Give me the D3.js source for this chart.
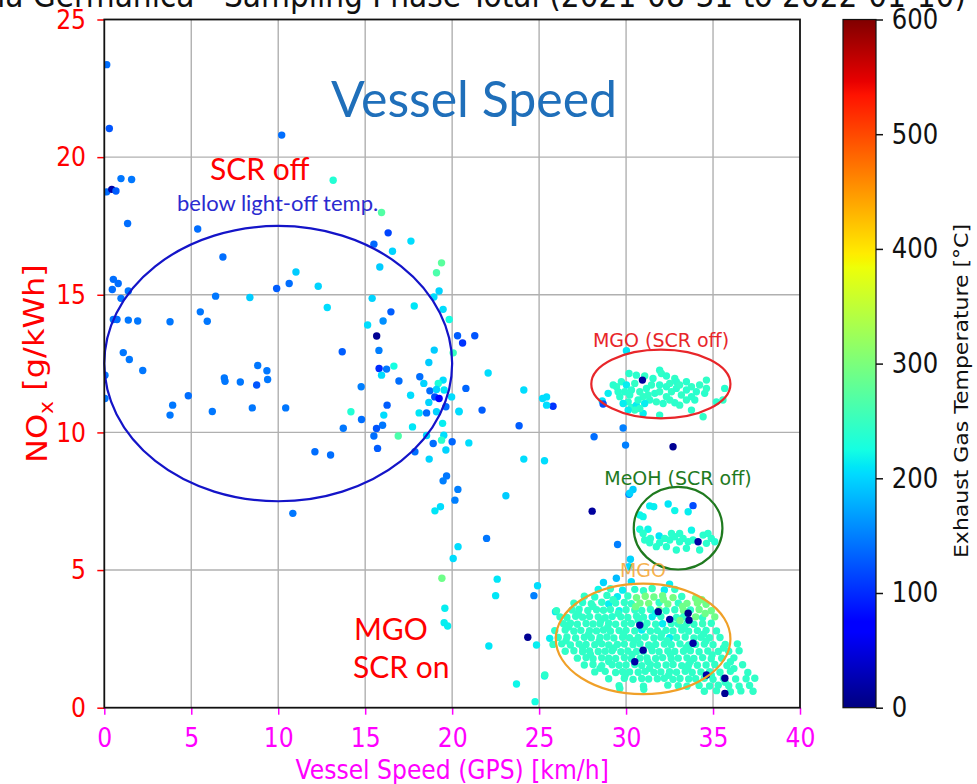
<!DOCTYPE html>
<html>
<head>
<meta charset="utf-8">
<script src="https://cdn.jsdelivr.net/npm/d3@7"></script>
<style>
  body { margin: 0; background: #fff; }
  svg { display: block; }
</style>
</head>
<body>
<div id="chart"></div>
<script>
// ---- data: [speed km/h, NOx g/kWh, exhaust temp °C] ----
const lowLoadPts = [
  [0.14,23.36,140],[0.29,21.04,125],[10.2,20.8,140],[0.96,19.22,145],[1.57,19.19,145],[0.14,18.74,140],
  [0.43,18.83,20],[0.67,18.77,130],[1.34,17.59,140],[5.37,17.39,140],[6.82,16.37,140],[0.52,15.56,140],
  [0.8,15.41,140],[0.46,15.19,140],[1.38,15.14,145],[0.96,14.87,145],[9.91,15.23,130],[10.63,15.41,140],
  [6.4,14.95,145],[8.37,14.9,195],[0.52,14.1,145],[0.73,14.1,140],[1.38,14.08,145],[1.92,14.05,145],
  [3.78,14.02,145],[5.52,14.38,145],[5.92,14.04,145],[1.09,12.9,145],[1.44,12.65,145],[2.21,12.25,145],
  [0.04,12.08,145],[0.04,11.23,145],[4.83,11.33,140],[3.93,10.99,145],[3.78,10.63,145],[6.21,10.76,145],
  [6.9,11.98,145],[6.94,11.86,145],[7.82,11.83,145],[8.82,12.43,145],[9.35,12.24,145],[9.39,11.92,145],
  [8.76,11.72,125],[8.51,10.89,145],[10.43,10.89,145],[10.84,7.06,145],[11.02,15.83,195],[12.3,15.31,200],
  [12.82,14.54,205],[13.68,12.93,130],[13.16,19.16,235],[12.11,9.3,140],[13.01,9.18,140],[13.74,10.15,145]
];

const midSpeedPts = [
  [14.77,11.66,150],[14.18,10.75,235],[14.79,10.47,140],[15.94,17.99,270],[16.32,17.25,115],[15.5,16.84,135],
  [17.63,16.95,205],[16.57,16.58,200],[15.84,16.01,195],[19.39,16.16,275],[19.1,15.8,265],[19.25,15.14,200],
  [18.95,14.92,205],[15.4,14.87,200],[17.82,14.59,210],[19.48,14.47,205],[16.48,14.38,130],[16.03,14.05,160],
  [19.83,14.1,225],[15.14,13.9,205],[15.66,13.5,10],[20.31,13.51,130],[20.6,13.25,105],[21.3,13.51,125],
  [18.97,12.99,195],[15.79,12.98,150],[20.06,12.89,250],[18.66,12.54,195],[16.65,12.41,225],[15.8,12.32,100],
  [16.23,12.3,145],[15.94,12.08,205],[16.94,11.87,140],[18.14,12.02,140],[18.37,11.78,200],[19.48,11.9,205],
  [19.2,11.78,230],[20.79,11.6,135],[18.72,11.51,140],[19.1,11.56,200],[19.54,11.54,210],[17.61,11.35,205],
  [19.0,11.29,120],[19.25,11.23,70],[19.97,11.29,205],[18.66,11.09,200],[19.64,10.93,140],[16.26,10.99,130],
  [18.1,10.71,210],[18.53,10.71,140],[19.1,10.75,200],[20.39,10.77,200],[16.07,10.63,205],[16.0,10.26,145],
  [17.72,10.2,210],[19.45,10.33,215],[15.65,10.14,125],[15.5,9.87,140],[16.9,9.87,265],[18.53,9.89,200],
  [19.52,9.9,205],[20.0,9.66,135],[20.96,9.62,205],[19.39,9.72,240],[15.71,9.42,130],[17.86,9.3,140],
  [18.68,9.03,200],[18.91,9.6,140],[19.64,9.36,200],[19.68,8.42,145],[19.48,8.24,150],[20.33,7.93,150],
  [20.16,7.54,150],[23.09,7.7,195],[19.33,7.3,205],[19.01,7.15,210],[21.98,6.15,145],[20.34,5.85,205],
  [20.06,5.42,205],[19.41,4.7,290],[22.59,4.67,210],[22.5,4.07,210],[24.91,4.43,205],[24.7,4.07,150],
  [19.58,3.61,215],[19.54,3.09,215],[19.74,2.97,215],[24.35,2.56,10],[22.11,2.24,210],[24.85,2.28,215],
  [25.31,1.15,220],[23.7,0.86,220],[24.77,0.22,225],[21.72,10.81,130],[20.4,10.75,205],[23.85,10.24,130],
  [24.12,9.03,205],[25.31,8.97,205],[25.8,10.95,105],[25.43,10.99,205],[24.12,11.54,205],[25.2,11.23,205],
  [25.43,11.29,205],[22.07,12.16,205],[28.16,9.84,140],[29.83,10.16,150],[29.97,9.54,150],[32.7,9.48,10],
  [28.05,7.14,15],[30.17,7.75,150],[30.4,7.93,195],[29.51,5.93,150],[30.25,5.39,200],[30.16,5.12,205],
  [25.94,3.49,215],[25.61,2.52,215],[30.21,7.79,200]
];

const mgoScrOffPts = [
  [30.17,12.14,240],[30.59,12.08,240],[31.07,12.05,245],[31.93,12.26,240],[32.03,12.14,245],[32.32,12.05,240],
  [32.8,11.96,245],[33.47,11.84,240],[34.62,11.9,245],[35.67,11.6,240],[35.57,11.18,245],[35.19,11.11,240],
  [34.43,10.57,245],[33.76,10.81,240],[33.08,10.99,245],[32.8,11.08,240],[32.51,11.18,245],[31.93,10.63,240],
  [30.98,10.69,215],[30.31,10.91,240],[30.59,10.99,215],[30.12,11.11,240],[29.64,11.3,240],[29.45,11.66,245],
  [29.73,11.84,240],[30.02,11.72,215],[30.31,11.54,240],[30.79,11.48,245],[31.17,11.6,240],[31.46,11.72,245],
  [31.65,11.42,240],[31.93,11.48,245],[32.32,11.66,240],[32.61,11.48,245],[32.89,11.6,240],[33.18,11.36,245],
  [33.47,11.54,240],[33.76,11.66,245],[34.04,11.48,240],[34.23,11.72,245],[34.52,11.42,240],[33.47,11.18,245],
  [33.95,11.18,240],[32.32,11.3,245],[31.36,11.18,240],[31.07,11.05,215],[30.79,10.87,240],[30.5,10.81,245],
  [30.12,10.81,215],[29.92,11.48,240],[30.5,11.78,245],[29.54,11.48,240],[29.26,11.72,240],[28.97,11.42,215],
  [31.26,11.36,245],[32.13,11.05,240],[31.74,11.11,245],[32.89,11.84,240],[32.51,11.78,245],[33.76,11.3,240],
  [34.62,11.6,245],[31.93,11.72,240],[30.98,11.3,245],[30.21,11.36,240],[29.83,11.05,215],[30.69,11.18,240],
  [33.08,11.72,245],[31.55,11.96,240],[28.63,11.14,210],[28.68,11.03,120],[30.94,11.9,15],[30.02,12.97,210]
];

const meohScrOffPts = [
  [31.36,7.33,215],[31.59,7.3,215],[32.42,7.4,210],[32.8,7.16,220],[33.57,7.12,215],[33.85,7.34,120],
  [30.79,7.0,220],[30.98,6.94,220],[30.79,6.48,230],[31.26,6.48,220],[30.98,6.33,240],[31.4,6.15,240],
  [31.9,6.24,210],[32.22,6.15,240],[32.51,6.09,240],[32.8,6.21,240],[33.08,6.03,240],[33.28,6.15,240],
  [33.57,6.03,240],[33.85,6.09,240],[34.14,6.03,20],[34.43,6.27,240],[34.71,6.33,240],[34.9,6.15,240],
  [35.1,6.03,235],[32.89,5.73,240],[32.32,5.85,240],[31.74,5.85,240],[31.36,5.99,240],[33.76,6.45,220],
  [33.08,6.33,240],[31.93,5.99,240],[31.07,6.09,240],[32.61,6.33,240],[33.47,5.79,240],[34.23,5.73,240],
  [34.62,5.97,240]
];

const mgoScrOnPts = [
  [29.44,4.7,185],[30.3,4.58,205],[32.5,4.49,215],[28.7,4.55,200],
  [28.4,4.3,220],[29.1,4.32,245],[29.8,4.27,215],[30.5,4.3,240],[31.0,4.25,245],[31.5,4.33,250],[32.2,4.28,215],[32.8,4.3,245],
  [27.6,4.05,245],[28.2,4.02,240],[28.9,4.08,245],[29.5,4.03,215],[30.1,4.06,245],[30.6,4.0,290],[31.1,4.05,295],
  [31.6,4.02,290],[32.1,4.07,290],[32.7,4.0,295],[33.2,4.04,245],[34.0,3.98,290],
  [27.0,3.8,245],[27.5,3.82,240],[28.0,3.78,245],[28.6,3.83,245],[29.0,3.77,215],[29.4,3.8,245],[29.9,3.82,245],
  [30.3,3.78,245],[30.8,3.8,290],[31.3,3.79,295],[31.9,3.82,245],[32.4,3.77,290],[33.0,3.8,245],[33.5,3.79,290],
  [34.1,3.8,295],[34.6,3.76,290],
  [26.0,3.52,245],[26.9,3.55,245],[27.3,3.58,240],[27.8,3.53,245],[28.3,3.56,245],[28.7,3.54,245],[29.1,3.57,245],
  [29.6,3.52,220],[30.0,3.56,245],[30.5,3.55,245],[30.9,3.53,245],[31.4,3.57,245],[31.9,3.55,290],[32.3,3.52,245],
  [32.8,3.56,245],[33.3,3.53,290],[33.7,3.55,245],[34.2,3.57,290],[34.9,3.52,290],
  [26.2,3.3,245],[26.6,3.28,245],[27.1,3.32,245],[27.5,3.29,245],[27.9,3.31,245],[28.4,3.3,245],[28.8,3.27,245],
  [29.2,3.31,240],[29.7,3.3,245],[30.1,3.28,245],[30.6,3.32,245],[31.0,3.29,245],[31.5,3.3,215],[32.0,3.31,245],
  [32.9,3.28,245],[33.3,3.3,245],[34.0,3.3,290],[34.4,3.27,245],[35.1,3.3,290],
  [26.4,3.05,245],[26.8,3.07,245],[27.2,3.03,245],[27.7,3.06,245],[28.1,3.04,245],[28.5,3.05,245],[29.0,3.07,245],
  [29.4,3.03,245],[29.9,3.05,245],[30.3,3.06,245],[30.8,3.04,245],[31.2,3.07,245],[31.7,3.03,245],[32.1,3.05,215],
  [32.6,3.06,245],[33.0,3.04,245],[33.5,3.06,245],[33.9,3.03,245],[34.4,3.05,250],[34.9,3.07,245],
  [25.9,2.8,240],[26.5,2.82,245],[27.0,2.78,245],[27.4,2.81,245],[27.9,2.8,245],[28.3,2.79,245],[28.7,2.82,245],
  [29.1,2.78,245],[29.6,2.8,245],[30.0,2.81,245],[30.5,2.79,245],[30.9,2.82,215],[31.4,2.78,245],[31.8,2.8,245],
  [32.3,2.81,245],[32.7,2.79,245],[33.2,2.82,245],[33.6,2.78,245],[34.1,2.8,245],[34.6,2.81,245],[35.2,2.79,245],
  [26.1,2.55,245],[26.6,2.57,245],[27.1,2.53,245],[27.6,2.56,245],[28.0,2.54,245],[28.5,2.55,245],[28.9,2.57,245],
  [29.3,2.53,245],[29.8,2.56,245],[30.2,2.54,245],[30.7,2.55,245],[31.1,2.57,245],[31.6,2.53,245],[32.0,2.56,245],
  [32.5,2.54,215],[32.9,2.55,245],[33.4,2.57,245],[33.9,2.53,245],[34.3,2.56,245],[34.8,2.54,245],[35.4,2.55,245],
  [25.8,2.3,245],[26.3,2.32,245],[26.8,2.28,245],[27.3,2.31,245],[27.7,2.3,245],[28.2,2.29,245],[28.6,2.32,245],
  [29.0,2.28,245],[29.5,2.3,245],[29.9,2.31,245],[30.4,2.29,245],[30.8,2.32,245],[31.3,2.28,245],[31.7,2.3,245],
  [32.2,2.31,245],[32.6,2.29,245],[33.1,2.32,245],[33.6,2.28,245],[34.0,2.3,245],[34.5,2.31,245],[35.0,2.29,245],
  [35.7,2.3,245],[36.4,2.32,245],
  [26.5,2.05,245],[27.0,2.07,245],[27.5,2.03,245],[27.9,2.06,245],[28.4,2.04,245],[28.8,2.05,245],[29.2,2.07,245],
  [29.7,2.03,245],[30.1,2.06,245],[30.6,2.04,245],[31.0,2.05,245],[31.5,2.07,245],[31.9,2.03,245],[32.4,2.06,245],
  [32.8,2.04,245],[33.3,2.05,245],[33.7,2.07,245],[34.2,2.03,245],[34.7,2.06,245],[35.3,2.04,245],[35.9,2.05,245],
  [36.5,2.07,245],
  [27.2,1.8,245],[27.7,1.82,245],[28.1,1.78,245],[28.6,1.81,245],[29.0,1.8,245],[29.4,1.79,245],[29.9,1.82,245],
  [30.3,1.78,245],[30.8,1.8,245],[31.2,1.81,245],[31.7,1.79,245],[32.1,1.82,245],[32.6,1.78,245],[33.0,1.8,245],
  [33.5,1.81,245],[33.9,1.79,245],[34.4,1.82,245],[34.9,1.78,245],[35.5,1.8,245],[36.2,1.81,245],
  [27.6,1.55,245],[28.1,1.57,245],[28.6,1.53,245],[29.2,1.56,245],[29.6,1.54,245],[30.0,1.55,245],[30.5,1.57,245],
  [30.9,1.53,245],[31.4,1.56,245],[31.8,1.54,245],[32.3,1.55,245],[32.7,1.57,245],[33.2,1.53,245],[33.6,1.56,245],
  [34.1,1.54,245],[34.6,1.55,245],[35.1,1.57,245],[35.8,1.53,245],[36.7,1.56,245],
  [28.2,1.3,245],[28.8,1.32,245],[29.4,1.28,245],[29.8,1.31,245],[30.2,1.3,245],[30.7,1.29,245],[31.1,1.32,245],
  [31.6,1.28,245],[32.0,1.3,245],[32.5,1.31,245],[32.9,1.29,245],[33.4,1.32,245],[33.8,1.28,245],[34.3,1.3,245],
  [34.8,1.31,245],[35.4,1.29,245],[36.0,1.32,245],[37.0,1.28,245],
  [29.0,1.05,245],[29.9,1.07,245],[30.4,1.03,245],[30.9,1.06,245],[31.3,1.04,245],[31.8,1.05,245],[32.2,1.07,245],
  [32.7,1.03,245],[33.1,1.06,245],[33.6,1.04,245],[34.0,1.05,245],[34.5,1.07,245],[35.0,1.03,245],[35.6,1.06,245],
  [36.3,1.04,245],[36.9,1.05,245],[37.4,1.07,245],
  [29.6,0.8,245],[31.0,0.78,245],[32.4,0.82,245],[33.0,0.8,245],[33.5,0.78,245],[34.2,0.81,245],[34.8,0.79,245],
  [35.3,0.82,245],[35.9,0.8,245],[36.5,0.78,245],[37.1,0.81,245],
  [34.5,0.6,245],[35.2,0.62,245],[36.0,0.58,245],[36.6,0.61,245],[37.3,0.6,245],
  [25.33,1.19,240],[29.64,0.7,245],[31.02,0.67,245]
];

// overlapping readings that sit between the rows above
const mgoScrOnFill = [
  [26.7,2.93,245],[27.85,2.68,245],[28.95,2.92,245],[29.85,2.67,245],[31.05,2.93,245],[32.05,2.68,245],
  [33.35,2.93,245],[34.45,2.67,245],[26.55,2.43,245],[27.5,2.18,245],[28.45,2.42,245],[29.3,2.17,245],
  [30.45,2.43,245],[31.45,2.18,245],[32.35,2.43,245],[33.45,2.18,245],[34.6,2.42,245],[35.6,2.17,245],
  [27.95,1.93,245],[29.0,1.68,245],[30.35,1.93,245],[31.25,1.68,245],[32.55,1.93,245],[33.7,1.68,245],
  [34.95,1.92,245],[36.0,1.67,245],[28.5,1.43,245],[29.95,1.18,245],[31.35,1.43,245],[32.45,1.18,245],
  [33.55,1.43,245],[34.9,1.18,245],[36.2,1.42,245],[35.7,0.92,245],[27.25,3.43,245],[28.55,3.17,245],
  [29.55,3.42,245],[30.7,3.18,245],[31.7,3.43,220],[33.1,3.17,290],[34.55,3.42,290],[28.1,3.68,245],
  [29.25,3.92,245],[30.55,3.67,290],[32.15,3.93,290],[33.25,3.68,290],[34.35,3.92,295]
];

// cold-sensor readings drawn on top of the MGO cluster
const mgoScrOnDark = [
  [31.85,3.49,10],[33.57,3.43,5],[33.62,3.18,10],[32.51,3.21,15],[30.79,3.0,20],[30.98,2.09,15],
  [30.5,1.67,20],[35.68,1.07,10],[35.68,0.52,10],[33.85,2.34,20],[34.62,1.19,20]
];

const xTicks = [0, 5, 10, 15, 20, 25, 30, 35, 40];
const yTicks = [0, 5, 10, 15, 20, 25];
const cTicks = [0, 100, 200, 300, 400, 500, 600];

// annotation ellipses in data units
const regionEllipses = [
  { cx: 10, cy: 12.5, rx: 10, ry: 5, color: "#1414c8" },
  { cx: 32.0, cy: 11.76, rx: 4.0, ry: 1.25, color: "#e8262a" },
  { cx: 32.99, cy: 6.52, rx: 2.55, ry: 1.5, color: "#1f7a1f" },
  { cx: 30.98, cy: 2.5, rx: 5.02, ry: 2.01, color: "#f0a028" }
];

// matplotlib "jet" breakpoints
const jetStops = [0, 0.11, 0.125, 0.34, 0.35, 0.375, 0.64, 0.65, 0.66, 0.89, 0.91, 1];
const jetColors = ["#000080", "#0000ff", "#0000ff", "#00dbff", "#00e6f7", "#15ffe2",
                   "#eeff08", "#f7f500", "#ffec00", "#ff1300", "#e80000", "#800000"];

// ---- layout ----
const width = 977, height = 784;
const plot = { left: 104.3, right: 800, top: 19.5, bottom: 707.7 };
const cbar = { left: 843, width: 33 };
const squeeze = 0.87;
const mplFont = "DejaVu Sans";

const svg = d3.select("#chart").append("svg")
    .attr("width", width)
    .attr("height", height);

svg.append("rect").attr("width", width).attr("height", height).attr("fill", "#fff");

const xScale = d3.scaleLinear().domain([0, 40]).range([plot.left, plot.right]);
const yScale = d3.scaleLinear().domain([0, 25]).range([plot.bottom, plot.top]);
const cScale = d3.scaleLinear().domain([0, 600]).range([plot.bottom, plot.top]);
const colorScale = d3.scaleLinear()
    .domain(jetStops.map(s => s * 600))
    .range(jetColors)
    .clamp(true);

const defs = svg.append("defs");
defs.append("clipPath").attr("id", "plot-clip")
    .append("rect")
    .attr("x", plot.left).attr("y", plot.top)
    .attr("width", plot.right - plot.left).attr("height", plot.bottom - plot.top);

// Grid
svg.append("g").selectAll("line")
    .data(xTicks.slice(1, -1))
    .join("line")
    .attr("x1", d => xScale(d)).attr("x2", d => xScale(d))
    .attr("y1", plot.top).attr("y2", plot.bottom)
    .attr("stroke", "#b0b0b0").attr("stroke-width", 1.4);
svg.append("g").selectAll("line")
    .data(yTicks.slice(1, -1))
    .join("line")
    .attr("x1", plot.left).attr("x2", plot.right)
    .attr("y1", d => yScale(d)).attr("y2", d => yScale(d))
    .attr("stroke", "#b0b0b0").attr("stroke-width", 1.4);

// Scatter points
const allPts = [...lowLoadPts, ...midSpeedPts, ...mgoScrOffPts, ...meohScrOffPts,
                ...mgoScrOnPts, ...mgoScrOnFill, ...mgoScrOnDark];
svg.append("g")
    .attr("clip-path", "url(#plot-clip)")
    .selectAll("circle")
    .data(allPts)
    .join("circle")
    .attr("cx", d => xScale(d[0]))
    .attr("cy", d => yScale(d[1]))
    .attr("r", 3.7)
    .attr("fill", d => colorScale(d[2]));

// Region ellipses
svg.append("g").selectAll("ellipse")
    .data(regionEllipses)
    .join("ellipse")
    .attr("cx", d => xScale(d.cx))
    .attr("cy", d => yScale(d.cy))
    .attr("rx", d => xScale(d.rx) - xScale(0))
    .attr("ry", d => yScale(0) - yScale(d.ry))
    .attr("fill", "none")
    .attr("stroke", d => d.color)
    .attr("stroke-width", 2.2);

// Axes
const xAxis = svg.append("g")
    .attr("transform", `translate(0,${plot.bottom})`)
    .call(d3.axisBottom(xScale).tickValues(xTicks).tickSize(7).tickPadding(13));
xAxis.select(".domain").remove();
xAxis.selectAll("line").attr("stroke", "#ff00ff").attr("stroke-width", 1.5);
xAxis.selectAll("text")
    .attr("fill", "#ff00ff")
    .style("font-family", mplFont).style("font-size", "27px")
    .attr("transform", `scale(${squeeze},1)`);

const yAxis = svg.append("g")
    .attr("transform", `translate(${plot.left},0)`)
    .call(d3.axisLeft(yScale).tickValues(yTicks).tickSize(7).tickPadding(14));
yAxis.select(".domain").remove();
yAxis.selectAll("line").attr("stroke", "#ff0000").attr("stroke-width", 1.5);
yAxis.selectAll("text")
    .attr("fill", "#ff0000")
    .style("font-family", mplFont).style("font-size", "27px")
    .attr("transform", `scale(${squeeze},1)`);

// Frame
svg.append("rect")
    .attr("x", plot.left).attr("y", plot.top)
    .attr("width", plot.right - plot.left).attr("height", plot.bottom - plot.top)
    .attr("fill", "none").attr("stroke", "#111").attr("stroke-width", 1.8);

// Axis titles
svg.append("text")
    .attr("transform", `translate(${(plot.left + plot.right) / 2},779) scale(${squeeze},1)`)
    .attr("text-anchor", "middle")
    .attr("fill", "#ff00ff")
    .style("font-family", mplFont).style("font-size", "27px")
    .text("Vessel Speed (GPS) [km/h]");

const yLabel = svg.append("text")
    .attr("transform", `translate(47,${(plot.top + plot.bottom) / 2}) scale(${squeeze},1) rotate(-90)`)
    .attr("text-anchor", "middle")
    .attr("fill", "#ff0000")
    .style("font-family", mplFont).style("font-size", "32px");
yLabel.append("tspan").text("NO");
yLabel.append("tspan").attr("dy", "0.3em").style("font-size", "22px").text("x");
yLabel.append("tspan").attr("dy", "-0.3em").text(" [g/kWh]");

// Title (cut by the top edge, as in the source figure)
svg.append("text")
    .attr("transform", `translate(966,7) scale(0.9,1)`)
    .attr("text-anchor", "end")
    .attr("fill", "#111")
    .style("font-family", mplFont).style("font-size", "33px")
    .text("Stena Germanica - Sampling Phase Total (2021-08-31 to 2022-01-10)");

// Colorbar
const grad = defs.append("linearGradient").attr("id", "jet-grad")
    .attr("x1", 0).attr("y1", 1).attr("x2", 0).attr("y2", 0);
grad.selectAll("stop")
    .data(jetStops)
    .join("stop")
    .attr("offset", d => d)
    .attr("stop-color", (d, i) => jetColors[i]);

svg.append("rect")
    .attr("x", cbar.left).attr("y", plot.top)
    .attr("width", cbar.width).attr("height", plot.bottom - plot.top)
    .attr("fill", "url(#jet-grad)")
    .attr("stroke", "#111").attr("stroke-width", 1.2);

const cAxis = svg.append("g")
    .attr("transform", `translate(${cbar.left + cbar.width},0)`)
    .call(d3.axisRight(cScale).tickValues(cTicks).tickSize(7).tickPadding(11));
cAxis.select(".domain").remove();
cAxis.selectAll("line").attr("stroke", "#111").attr("stroke-width", 1.5);
cAxis.selectAll("text")
    .attr("fill", "#111")
    .style("font-family", mplFont).style("font-size", "28px")
    .attr("transform", `scale(${squeeze},1)`);

svg.append("text")
    .attr("transform", `translate(968,391) scale(${squeeze},1) rotate(-90)`)
    .attr("text-anchor", "middle")
    .attr("fill", "#111")
    .style("font-family", mplFont).style("font-size", "22px")
    .text("Exhaust Gas Temperature [°C]");

// Annotation texts
const notes = svg.append("g");
notes.append("text").attr("x", 474).attr("y", 117).attr("text-anchor", "middle")
    .attr("fill", "#1f6fba").style("font-family", "Lato").style("font-size", "50px")
    .text("Vessel Speed");
notes.append("text").attr("x", 210).attr("y", 180)
    .attr("fill", "#ff0000").style("font-family", "Lato").style("font-size", "30px")
    .text("SCR off");
notes.append("text").attr("x", 177).attr("y", 211)
    .attr("fill", "#2b2bd0").style("font-family", "Lato").style("font-size", "22px")
    .text("below light-off temp.");
notes.append("text").attr("x", 354).attr("y", 640)
    .attr("fill", "#ff0000").style("font-family", "Lato").style("font-size", "30px")
    .text("MGO");
notes.append("text").attr("x", 353).attr("y", 678)
    .attr("fill", "#ff0000").style("font-family", "Lato").style("font-size", "30px")
    .text("SCR on");
notes.append("text").attr("x", 661).attr("y", 347).attr("text-anchor", "middle")
    .attr("fill", "#e8262a").style("font-family", mplFont).style("font-size", "19px")
    .text("MGO (SCR off)");
notes.append("text").attr("x", 678).attr("y", 485).attr("text-anchor", "middle")
    .attr("fill", "#1f7a1f").style("font-family", mplFont).style("font-size", "19px")
    .text("MeOH (SCR off)");
notes.append("text").attr("x", 643).attr("y", 577).attr("text-anchor", "middle")
    .attr("fill", "#f5a630").attr("fill-opacity", 0.85)
    .style("font-family", mplFont).style("font-size", "19px")
    .text("MGO");
</script>
</body>
</html>
